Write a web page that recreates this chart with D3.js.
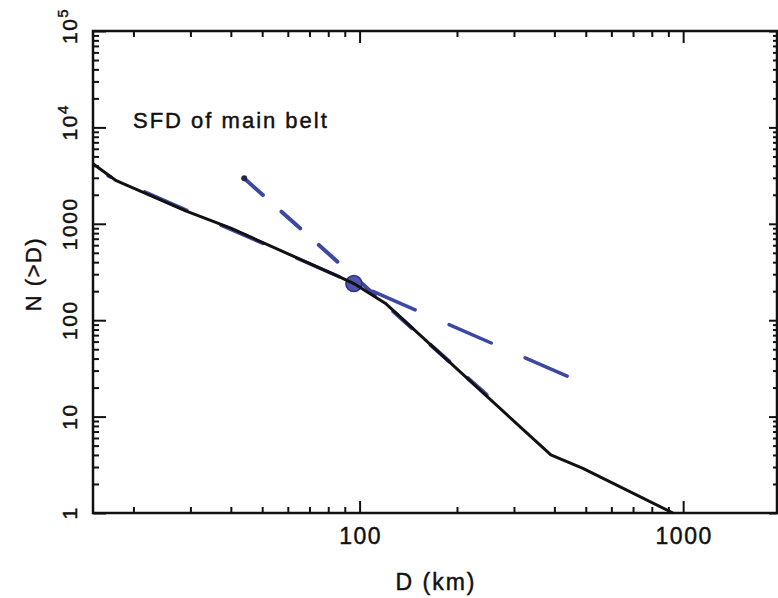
<!DOCTYPE html>
<html>
<head>
<meta charset="utf-8">
<script src="https://cdn.jsdelivr.net/npm/d3@7"></script>
<style>
  body { margin: 0; background: #fff; }
  svg { display: block; font-family: "Liberation Sans", Arial, sans-serif; }
  svg text { stroke: #111; stroke-width: 0.45px; }
</style>
</head>
<body>
<svg id="sfdGraph" width="778" height="598"></svg>
<script>
// Data: cumulative size-frequency distribution of the main belt
const sfdDiameter = [15, 17.7, 29, 40, 87, 96, 120, 390, 490, 930];
const sfdCount = [4200, 2800, 1360, 900, 280, 240, 150, 4, 2.9, 1];

// Power-law fits (blue dashed)
const steepFitD = [44, 265];
const steepFitN = [2960, 13.6];
const shallowFitD = [16.7, 438];
const shallowFitN = [3140, 26.3];

// Break point marker
const markerD = [96];
const markerN = [240];

// Tick labels
const xTickValues = [100, 1000];
const xTickLabels = ["100", "1000"];
const yTickValues = [1, 10, 100, 1000, 1e4, 1e5];
const yTickLabels = ["1", "10", "100", "1000", "10^4", "10^5"];

document.addEventListener("DOMContentLoaded", function() {
    const svg = d3.select("#sfdGraph");

    // Size settings
    const margin = {top: 31, right: 1, bottom: 85, left: 93};
    const width = 778, height = 598;
    const x = d3.scaleLog().domain([15, 1950]).range([margin.left, width - margin.right]);
    const y = d3.scaleLog().domain([1, 1e5]).range([height - margin.bottom, margin.top]);

    // Color settings
    const BLUE = "#3d48a0";
    const BLACK = "#111";

    const xMinor = [];
    [10, 100, 1000].forEach(dec => {
        for (let k = 2; k <= 9; k++) {
            const v = dec * k;
            if (v > 15 && v < 1950) xMinor.push(v);
        }
    });
    const yMinor = [];
    [1, 10, 100, 1000, 1e4].forEach(dec => {
        for (let k = 2; k <= 9; k++) yMinor.push(dec * k);
    });

    ////////// Axes (ticks point inward) //////////
    function addAxis(axis, vals, size, tx, ty) {
        const g = svg.append("g")
            .attr("transform", `translate(${tx},${ty})`)
            .call(axis.tickValues(vals).tickSize(size).tickSizeOuter(0).tickFormat(""));
        g.select(".domain").remove();
        g.selectAll(".tick line").attr("stroke", BLACK).attr("stroke-width", 2);
    }
    const bottomY = y.range()[0], topY = y.range()[1];
    const leftX = x.range()[0], rightX = x.range()[1];

    addAxis(d3.axisBottom(x), xMinor, -6, 0, bottomY);
    addAxis(d3.axisBottom(x), xTickValues, -12, 0, bottomY);
    addAxis(d3.axisTop(x), xMinor, -6, 0, topY);
    addAxis(d3.axisTop(x), xTickValues, -12, 0, topY);
    addAxis(d3.axisLeft(y), yMinor, -6, leftX, 0);
    addAxis(d3.axisLeft(y), yTickValues, -13, leftX, 0);
    addAxis(d3.axisRight(y), yMinor, -4, rightX, 0);
    addAxis(d3.axisRight(y), yTickValues, -8, rightX, 0);

    // Frame
    svg.append("rect")
        .attr("x", leftX).attr("y", topY)
        .attr("width", rightX - leftX).attr("height", bottomY - topY)
        .attr("fill", "none").attr("stroke", BLACK).attr("stroke-width", 2.5);

    // X tick labels
    svg.selectAll(".xlab")
        .data(xTickValues)
        .enter().append("text")
        .attr("x", d => x(d) + 1)
        .attr("y", 544)
        .attr("text-anchor", "middle")
        .attr("font-size", 23)
        .attr("letter-spacing", 1.5)
        .attr("fill", BLACK)
        .text((d, i) => xTickLabels[i]);

    // Y tick labels, rotated
    yTickValues.forEach((v, i) => {
        const lab = yTickLabels[i];
        const t = svg.append("text")
            .attr("transform", `translate(77,${y(v)}) rotate(-90)`)
            .attr("font-size", 21)
            .attr("letter-spacing", 1.5)
            .attr("fill", BLACK);
        if (lab.includes("^")) {
            const parts = lab.split("^");
            t.attr("x", -13).attr("text-anchor", "start");
            t.append("tspan").text(parts[0]);
            t.append("tspan").attr("dy", -9).attr("font-size", 15).text(parts[1]);
        } else {
            t.attr("text-anchor", "middle").text(lab);
        }
    });

    // Axis titles
    svg.append("text")
        .attr("x", 436).attr("y", 590)
        .attr("text-anchor", "middle")
        .attr("font-size", 23)
        .attr("letter-spacing", 2)
        .attr("fill", BLACK)
        .text("D (km)");

    svg.append("text")
        .attr("transform", "translate(41,274) rotate(-90)")
        .attr("text-anchor", "middle")
        .attr("font-size", 22)
        .attr("letter-spacing", 1.5)
        .attr("fill", BLACK)
        .text("N (>D)");

    svg.append("text")
        .attr("x", 133).attr("y", 128)
        .attr("font-size", 22)
        .attr("letter-spacing", 2)
        .attr("fill", BLACK)
        .text("SFD of main belt");

    ////////// Lines //////////
    const line = d3.line().x(d => x(d[0])).y(d => y(d[1]));

    svg.append("path")
        .datum(shallowFitD.map((d, i) => [d, shallowFitN[i]]))
        .attr("d", line)
        .attr("fill", "none")
        .attr("stroke", BLUE)
        .attr("stroke-width", 3.5)
        .attr("stroke-linecap", "round")
        .attr("stroke-dasharray", "46,37")
        .attr("stroke-dashoffset", 43);

    svg.append("path")
        .datum(steepFitD.map((d, i) => [d, steepFitN[i]]))
        .attr("d", line)
        .attr("fill", "none")
        .attr("stroke", BLUE)
        .attr("stroke-width", 4)
        .attr("stroke-linecap", "round")
        .attr("stroke-dasharray", "25,25");

    svg.append("circle")
        .attr("cx", x(steepFitD[0]))
        .attr("cy", y(steepFitN[0]))
        .attr("r", 3)
        .attr("fill", "#22264a");

    svg.selectAll(".marker")
        .data(markerD)
        .enter().append("circle")
        .attr("cx", d => x(d))
        .attr("cy", (d, i) => y(markerN[i]))
        .attr("r", 8)
        .attr("fill", "#5055ad")
        .attr("stroke", "#2e3385")
        .attr("stroke-width", 1.5);

    svg.append("path")
        .datum(sfdDiameter.map((d, i) => [d, sfdCount[i]]))
        .attr("d", line)
        .attr("fill", "none")
        .attr("stroke", BLACK)
        .attr("stroke-width", 3)
        .attr("stroke-linejoin", "round");
});
</script>
</body>
</html>
